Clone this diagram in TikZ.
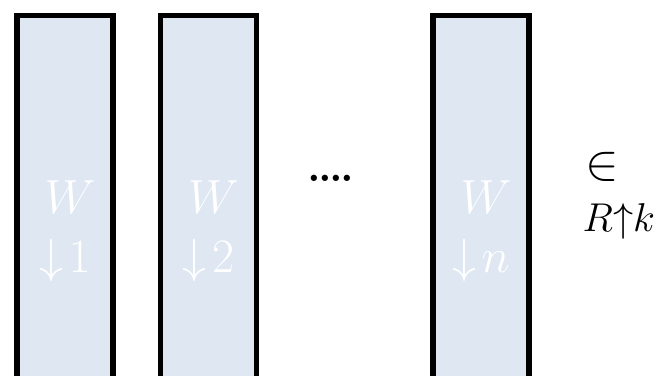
\documentclass[tikz,border=0pt]{standalone}
\usepackage{amsmath}
\usepackage{xcolor}
\usetikzlibrary{positioning}

\definecolor{colfill}{RGB}{222,231,242}

\begin{document}
\begin{tikzpicture}[
    x=0.025cm, y=-0.025cm, % pixel grid, origin top left
    column/.style={draw=black, line width=3.6pt, fill=colfill,
      minimum width=2.4cm, minimum height=9.7cm, anchor=north, inner sep=0pt},
    wlabel/.style={text=white, anchor=base, font=\Huge, scale=1.37, transform shape},
    side/.style={anchor=base west, font=\Huge, scale=1.15, transform shape}
]
  \useasboundingbox (0,0) rectangle (664,375);
  \clip (0,0) rectangle (664,375);

  % --- COLUMN VECTORS ---
  \foreach \cx/\idx/\nm in {65/1/w1, 208.5/2/w2, 481/n/wn} {
    \node[column] (\nm) at (\cx,12.5) {};
    \node[wlabel] (\nm-top) at (\cx+5,213) {$W$};
    \node[wlabel] (\nm-sub) at (\cx,272) {$\downarrow\!\idx$};
  }

  % --- GAP ---
  \node[anchor=base, font=\Huge\bfseries, scale=1.25, transform shape] (gap) at (330.5,181)
    {.\kern-1.6pt.\kern-1.6pt.\kern-1.6pt.};

  % --- MEMBERSHIP ---
  \node[side, scale=1.25] (elem) at (578,179) {$\in$};
  \node[side] (space) at (577,231) {$R{\uparrow}k$};

\end{tikzpicture}
\end{document}
